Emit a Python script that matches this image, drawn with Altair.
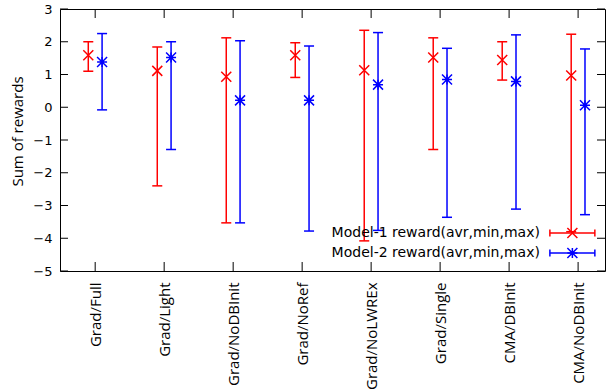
import altair as alt
import pandas as pd

categories = ["Grad/Full", "Grad/Light", "Grad/NoDBInit", "Grad/NoRef",
              "Grad/NoLWREx", "Grad/Single", "CMA/DBInit", "CMA/NoDBInit"]
m1_avg = [1.59, 1.11, 0.93, 1.59, 1.13, 1.52, 1.44, 0.97]
m1_min = [1.10, -2.40, -3.53, 0.91, -4.08, -1.29, 0.83, -3.80]
m1_max = [2.00, 1.84, 2.12, 1.97, 2.35, 2.12, 2.00, 2.23]
m2_avg = [1.38, 1.52, 0.21, 0.21, 0.69, 0.85, 0.79, 0.06]
m2_min = [-0.08, -1.29, -3.53, -3.78, -3.76, -3.36, -3.11, -3.28]
m2_max = [2.25, 2.00, 2.03, 1.87, 2.28, 1.80, 2.21, 1.78]
series_names = ["Model-1 reward(avr,min,max)", "Model-2 reward(avr,min,max)"]
y_ticks = [-5, -4, -3, -2, -1, 0, 1, 2, 3]

W, H = 545, 262
X_DOMAIN = [0.49, 8.39]
OFFSET = 0.1
CAP = 0.0725

rows = []
for i, cat in enumerate(categories):
    idx = i + 1
    for s, (a, lo, hi, off) in enumerate([(m1_avg[i], m1_min[i], m1_max[i], -OFFSET),
                                           (m2_avg[i], m2_min[i], m2_max[i], OFFSET)]):
        xp = idx + off
        rows.append(dict(cat=cat, series=series_names[s], x=xp, xl=xp - CAP, xr=xp + CAP,
                         avg=a, lo=lo, hi=hi))
df = pd.DataFrame(rows)

xs = alt.Scale(domain=X_DOMAIN, nice=False, zero=False)
ys = alt.Scale(domain=[-5, 3], nice=False, zero=False)
col = alt.Color("series:N", scale=alt.Scale(domain=series_names, range=["#ff0000", "#0000ff"]), legend=None)
p_x = "M-1,-1L1,1M-1,1L1,-1"
p_star = "M-1,-1L1,1M-1,1L1,-1M-1,0L1,0M0,-1L0,1"
shp = alt.Shape("series:N", scale=alt.Scale(domain=series_names, range=[p_x, p_star]), legend=None)

label_expr = "[" + ",".join("'" + c + "'" for c in categories) + "][round(datum.value) - 1]"

x_axis = alt.Axis(values=list(range(1, 9)), labelExpr=label_expr,
                  labelAngle=-90, ticks=False, domain=False, grid=False,
                  labelPadding=11, labelFont="Open Sans", labelFontSize=15,
                  labelColor="black", labelOverlap=False, title=None)
y_axis = alt.Axis(values=y_ticks, ticks=False, domain=False, grid=False,
                  labelPadding=8, labelFont="DejaVu Sans", labelFontSize=13,
                  labelColor="black", labelOverlap=False, labelFlush=False,
                  title="Sum of rewards",
                  titleFont="Open Sans", titleFontSize=15,
                  titleFontWeight="normal", titleColor="black",
                  titleX=-43, titleY=122, titleAngle=-90,
                  titleAlign="center", titleBaseline="middle")


def X(f):
    return alt.X(f, scale=xs, axis=x_axis)


def Y(f):
    return alt.Y(f, scale=ys, axis=y_axis)


base = alt.Chart(df)

bars = base.mark_rule(strokeWidth=1.5).encode(
    x=X("x:Q"), y=Y("lo:Q"), y2="hi:Q", color=col)
cap_lo = base.mark_rule(strokeWidth=1.5).encode(x=X("xl:Q"), x2="xr:Q", y=Y("lo:Q"), color=col)
cap_hi = base.mark_rule(strokeWidth=1.5).encode(x=X("xl:Q"), x2="xr:Q", y=Y("hi:Q"), color=col)
pts = base.mark_point(filled=False, strokeWidth=1.5, size=100, opacity=1).encode(
    x=X("x:Q"), y=Y("avg:Q"), color=col, shape=shp)

# inward ticks (gnuplot style, mirrored)
ytdf = pd.DataFrame({"v": y_ticks})
xtdf = pd.DataFrame({"v": list(range(1, 9))})
yt_l = alt.Chart(ytdf).mark_rule(color="black", strokeWidth=1).encode(
    y=Y("v:Q"), x=alt.value(0), x2=alt.value(8))
yt_r = alt.Chart(ytdf).mark_rule(color="black", strokeWidth=1).encode(
    y=Y("v:Q"), x=alt.value(W - 8), x2=alt.value(W))
xt_b = alt.Chart(xtdf).mark_rule(color="black", strokeWidth=1).encode(
    x=X("v:Q"), y=alt.value(H - 9), y2=alt.value(H))
xt_t = alt.Chart(xtdf).mark_rule(color="black", strokeWidth=1).encode(
    x=X("v:Q"), y=alt.value(0), y2=alt.value(9))

# legend (inside plot, bottom right), placed in data coordinates
leg = pd.DataFrame({
    "series": series_names,
    "ly": [-3.84, -4.45],
    "tx": [7.446, 7.446],
    "l0": [7.591, 7.591],
    "l1": [8.243, 8.243],
    "lc": [7.917, 7.917],
})
leg["ylo"] = leg["ly"] - 0.11
leg["yhi"] = leg["ly"] + 0.11
lbase = alt.Chart(leg)
leg_text = lbase.mark_text(align="right", baseline="middle", font="DejaVu Sans", fontSize=14,
                           color="black").encode(x=X("tx:Q"), y=Y("ly:Q"), text="series:N")
leg_line = lbase.mark_rule(strokeWidth=1.5).encode(x=X("l0:Q"), x2="l1:Q", y=Y("ly:Q"), color=col)
leg_c0 = lbase.mark_rule(strokeWidth=1.5).encode(x=X("l0:Q"), y=Y("ylo:Q"), y2="yhi:Q", color=col)
leg_c1 = lbase.mark_rule(strokeWidth=1.5).encode(x=X("l1:Q"), y=Y("ylo:Q"), y2="yhi:Q", color=col)
leg_pt = lbase.mark_point(filled=False, strokeWidth=1.5, size=100, opacity=1).encode(
    x=X("lc:Q"), y=Y("ly:Q"), color=col, shape=shp)

chart = alt.layer(
    bars, yt_l, yt_r, xt_b, xt_t,
    cap_lo, cap_hi, pts,
    leg_line, leg_c0, leg_c1, leg_pt, leg_text,
).properties(
    width=W, height=H,
    autosize=alt.AutoSizeParams(type="none"),
    padding={"left": 60, "top": 9, "right": 5, "bottom": 120},
    background="white",
).configure_view(stroke="black", strokeWidth=1)

chart.save("out.html", embed_options={"renderer": "svg", "actions": False})
